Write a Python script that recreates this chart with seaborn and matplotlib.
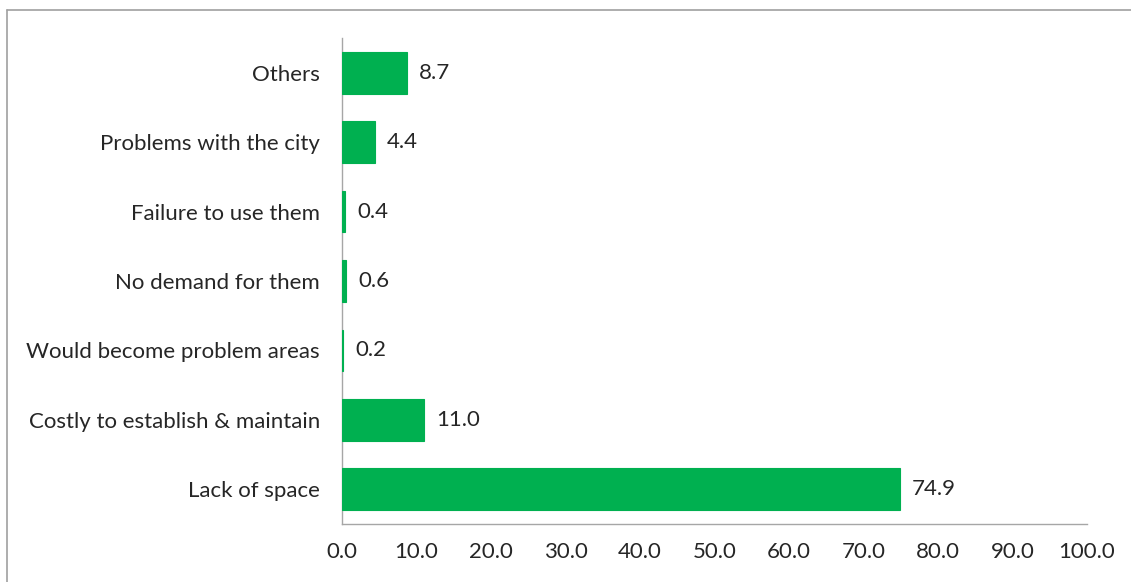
import matplotlib
matplotlib.use("Agg")
import matplotlib.pyplot as plt
import seaborn as sns
import pandas as pd
from matplotlib.lines import Line2D

categories = ["Others", "Problems with the city", "Failure to use them",
              "No demand for them", "Would become problem areas",
              "Costly to establish & maintain", "Lack of space"]
values = [8.7, 4.4, 0.4, 0.6, 0.2, 11.0, 74.9]
xticks = [0, 10, 20, 30, 40, 50, 60, 70, 80, 90, 100]

sns.set_theme(style="white")
plt.rcParams['font.family'] = ['Lato', 'DejaVu Sans']

df = pd.DataFrame({"cat": categories, "val": values})

fig = plt.figure(figsize=(11.31, 5.82), dpi=100)
ax = fig.add_axes([342/1131, 1-524/582, (1087-342)/1131, (524-38)/582])
sns.barplot(data=df, y="cat", x="val", orient="h", color="#00B050",
            saturation=1, width=0.6, ax=ax, edgecolor="#00B050", linewidth=0.8)
ax.set_xlim(0, 100)
ax.set_ylim(6.5, -0.5)
ax.set_xticks(xticks)
ax.set_xticklabels([f"{t:.1f}" for t in xticks])
ax.set_xlabel("")
ax.set_ylabel("")
for s in ["top", "right"]:
    ax.spines[s].set_visible(False)
for s in ["left", "bottom"]:
    ax.spines[s].set_color("#A6A6A6")
    ax.spines[s].set_linewidth(1)
    ax.spines[s].set_zorder(0.5)
ax.tick_params(axis="both", length=0, labelsize=16, colors="#262626")
ax.tick_params(axis="x", pad=13)
ax.tick_params(axis="y", pad=16)
for i, v in enumerate(values):
    ax.text(v + 1.6, i, f"{v:.1f}", va="center", ha="left", fontsize=16, color="#262626")

# outer chart border
fig.add_artist(Line2D([7/1131, 1], [1-10/582, 1-10/582], transform=fig.transFigure, color="#A0A0A0", lw=1.2))
fig.add_artist(Line2D([7/1131, 7/1131], [0, 1-10/582], transform=fig.transFigure, color="#A0A0A0", lw=1.2))

fig.savefig("out.png", dpi=100)
